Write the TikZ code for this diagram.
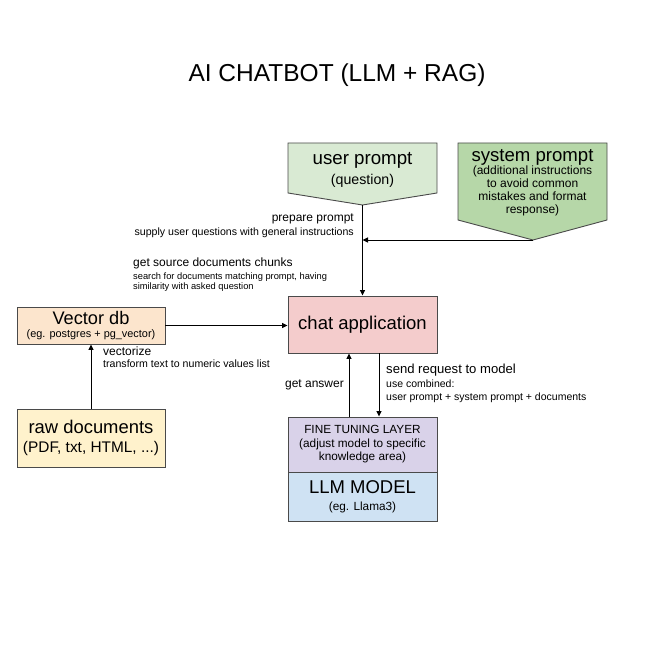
\documentclass[tikz,border=0pt]{standalone}
\usepackage{fontspec}
\setmainfont{Liberation Sans}
\usetikzlibrary{positioning,arrows.meta}

\definecolor{boxline}{HTML}{4A4A4A}
\definecolor{userfill}{HTML}{D9EAD3}
\definecolor{sysfill}{HTML}{B6D7A8}
\definecolor{chatfill}{HTML}{F4CCCC}
\definecolor{dbfill}{HTML}{FCE5CD}
\definecolor{rawfill}{HTML}{FFF2CC}
\definecolor{tunefill}{HTML}{D9D2E9}
\definecolor{llmfill}{HTML}{CFE2F3}

\begin{document}
\begin{tikzpicture}[x=1pt,y=1pt,yscale=-1,xscale=1,
  box/.style={draw=boxline, line width=0.9pt, minimum width=149pt, inner sep=0pt, align=center},
  arr/.style={line width=0.9pt, -{Triangle[length=5.5pt,width=5pt]}},
  lbl/.style={inner sep=0pt, font=\fontsize{10.6}{12}\selectfont},
  bigl/.style={inner sep=0pt, font=\fontsize{12}{14}\selectfont}
]
\useasboundingbox (0,0) rectangle (668,652);

% Text Node
\node [anchor=base, inner sep=0pt, font=\fontsize{24.5}{28}\selectfont] (title) at (337,82) {AI CHATBOT (LLM + RAG)};

%Shapes
\draw [draw=boxline, fill=userfill, line width=0.9pt] (288,143) -- (437,143) -- (437,193) -- (362.5,205) -- (288,193) -- cycle ;
\coordinate (utip) at (362.5,205);
\draw [draw=boxline, fill=sysfill, line width=0.9pt] (458,143) -- (607,143) -- (607,220) -- (533,240) -- (458,220) -- cycle ;
\coordinate (stip) at (533,240);

% Text Node
\node [inner sep=0pt, align=center, anchor=base, font=\fontsize{14.2}{19.7}\selectfont] (user) at (362.5,184.5) {{\fontsize{18.7}{20}\selectfont user prompt}\\(question)};
% Text Node
\node [inner sep=0pt, align=center, anchor=base, font=\fontsize{12}{13.1}\selectfont] (system) at (532.5,214) {{\fontsize{18.6}{20}\selectfont system prompt}\\(additional instructions\\to avoid common\\mistakes and format\\response)};

% Boxes
\node [box, fill=chatfill, minimum height=57pt, font=\fontsize{18.5}{20}\selectfont] (chat) at (362.5,324.5) {chat application};
\node [box, fill=dbfill, minimum width=148pt, minimum height=37pt, font=\fontsize{10.9}{13}\selectfont] (vdb) at (91,325.5) {{\fontsize{18.2}{20}\selectfont Vector db}\\(eg. postgres + pg\_vector)};
\node [box, fill=rawfill, minimum width=148pt, minimum height=58pt, font=\fontsize{15.4}{19.3}\selectfont] (raw) at (91,438) {{\fontsize{18.4}{20}\selectfont raw documents}\\(PDF, txt, HTML, ...)};
\node [box, fill=tunefill, minimum height=55pt, font=\fontsize{11.8}{13.5}\selectfont] (tune) at (362.5,444.5) {FINE TUNING LAYER\\(adjust model to specific\\knowledge area)};
\node [box, fill=llmfill, minimum height=49pt, font=\fontsize{11.8}{16.7}\selectfont] (llm) at (362.5,496.5) {{\fontsize{18.5}{20}\selectfont LLM MODEL}\\(eg. Llama3)};

%Straight Lines
\draw [arr] (utip) -- (utip |- chat.north) ;
\draw [arr] (stip) -- (utip |- stip) ;
\draw [arr] (vdb.east) -- (vdb.east -| chat.west) ;
\draw [arr] (raw.north) -- (vdb.south) ;
\draw [arr] ([xshift=-13.5pt]tune.north) -- ([xshift=-13.5pt]chat.south) ;
\draw [arr] ([xshift=16.5pt]chat.south) -- ([xshift=16.5pt]tune.north) ;

% Text Node
\node [bigl, anchor=base east] (prep) at (354,221.5) {prepare prompt};
\node [lbl, anchor=base east] (prepsub) at (354,235) {supply user questions with general instructions};
% Text Node
\node [bigl, anchor=base west] (chunks) at (133,266) {get source documents chunks};
\node [lbl, anchor=base west, font=\fontsize{9.3}{10.5}\selectfont, align=left] (chunksub) at (133,289.5) {search for documents matching prompt, having\\similarity with asked question};
% Text Node
\node [bigl, anchor=base west] (vect) at (103,355) {vectorize};
\node [lbl, anchor=base west] (vectsub) at (103,367) {transform text to numeric values list};
% Text Node
\node [bigl, anchor=base east] (answer) at (344,387) {get answer};
% Text Node
\node [bigl, anchor=base west, font=\fontsize{13.1}{14}\selectfont] (send) at (386,373.5) {send request to model};
\node [lbl, anchor=base west, align=left, font=\fontsize{10.5}{13}\selectfont] (sendsub) at (386,400) {use combined:\\user prompt + system prompt + documents};

\end{tikzpicture}
\end{document}
